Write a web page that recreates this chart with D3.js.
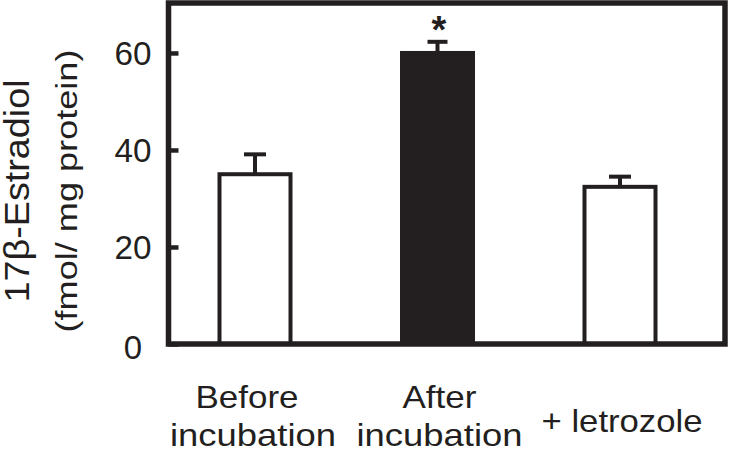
<!DOCTYPE html>
<html>
<head>
<meta charset="utf-8">
<script src="https://cdn.jsdelivr.net/npm/d3@7"></script>
<style>
  html, body { margin: 0; padding: 0; background: #fff; }
  svg { display: block; }
  text { font-family: Arial, "Liberation Sans", Helvetica, sans-serif; fill: #231f20; }
</style>
</head>
<body>
<svg id="chart" width="729" height="452"></svg>
<script>
const categories = ["Before incubation", "After incubation", "+ letrozole"];
const labelLines = [["Before", "incubation"], ["After", "incubation"], ["+ letrozole"]];
const means = [35.0, 60.0, 32.4];
const errors = [4.1, 2.3, 2.1];
const barFills = ["#ffffff", "#231f20", "#ffffff"];
const significant = [false, true, false];
const yTicks = [0, 20, 40, 60];
const yTitle = "17\u03B2-Estradiol";
const yUnits = "(fmol/ mg protein)";

const ink = "#231f20";
const svg = d3.select("#chart");

const frameLeft = 168.5, frameRight = 725;
const y = d3.scaleLinear().domain([0, 70.3]).range([344, 3]);
const x = d3.scalePoint().domain(categories).range([255, 620]);
const barW = 71;

// bars
svg.append("g").selectAll("rect").data(categories).join("rect")
  .attr("x", d => x(d) - barW / 2)
  .attr("y", (d, i) => y(means[i]))
  .attr("width", barW)
  .attr("height", (d, i) => y(0) - y(means[i]))
  .attr("fill", (d, i) => barFills[i])
  .attr("stroke", ink)
  .attr("stroke-width", 4);

// error bars (upper only)
const eb = svg.append("g").attr("stroke", ink).attr("stroke-width", 4);
categories.forEach((c, i) => {
  const cx = x(c);
  const capW = i === 1 ? 20 : 22;
  eb.append("line").attr("x1", cx).attr("x2", cx)
    .attr("y1", y(means[i])).attr("y2", y(means[i] + errors[i]));
  eb.append("line").attr("x1", cx - capW / 2).attr("x2", cx + capW / 2)
    .attr("y1", y(means[i] + errors[i])).attr("y2", y(means[i] + errors[i]));
  if (significant[i]) {
    svg.append("text").attr("x", cx + 1.5).attr("y", y(means[i] + errors[i]) + 1)
      .attr("text-anchor", "middle").attr("font-size", 38).attr("font-weight", "bold")
      .text("*");
  }
});

// frame
svg.append("rect")
  .attr("x", frameLeft).attr("y", y(70.3))
  .attr("width", frameRight - frameLeft).attr("height", y(0) - y(70.3))
  .attr("fill", "none").attr("stroke", ink).attr("stroke-width", 5.5);

// y axis ticks (inward) and labels
const yAxis = d3.axisLeft(y).tickValues(yTicks).tickSize(-10).tickPadding(0).tickFormat(d3.format("d"));
const ya = svg.append("g").attr("transform", `translate(${frameLeft},0)`).call(yAxis);
ya.select(".domain").remove();
ya.selectAll(".tick line").attr("stroke", ink).attr("stroke-width", 4.5);
ya.selectAll(".tick text")
  .attr("x", -35.5).attr("text-anchor", "middle")
  .attr("dy", "0.36em")
  .attr("font-size", 33).attr("fill", ink)
  .style("font-family", "Arial, 'Liberation Sans', sans-serif");
ya.selectAll(".tick").filter(d => d !== 0).select("text")
  .attr("textLength", 37).attr("lengthAdjust", "spacingAndGlyphs");
ya.selectAll(".tick").filter(d => d === 0).select("text").attr("dy", "0.44em");

// x labels
const lineLen = { "Before": 103, "incubation": 166, "After": 74, "+ letrozole": 161 };
const xl = svg.append("g");
categories.forEach((c, i) => {
  const lines = labelLines[i];
  const add = (txt, cx, by) => xl.append("text")
    .attr("x", cx).attr("y", by).attr("text-anchor", "middle").attr("font-size", 32)
    .attr("textLength", lineLen[txt]).attr("lengthAdjust", "spacingAndGlyphs")
    .text(txt);
  if (lines.length === 2) {
    add(lines[0], x(c) + (i === 0 ? -8 : 2), 408);
    add(lines[1], x(c) + (i === 0 ? -2 : 2), 446);
  } else {
    add(lines[0], x(c) + 2, 432);
  }
});

// y titles
svg.append("text")
  .attr("transform", "translate(29,191) rotate(-90)")
  .attr("text-anchor", "middle").attr("font-size", 35)
  .attr("textLength", 223).attr("lengthAdjust", "spacingAndGlyphs")
  .text(yTitle);
svg.append("text")
  .attr("transform", "translate(77,191) rotate(-90)")
  .attr("text-anchor", "middle").attr("font-size", 30)
  .attr("textLength", 283).attr("lengthAdjust", "spacingAndGlyphs")
  .text(yUnits);
</script>
</body>
</html>
